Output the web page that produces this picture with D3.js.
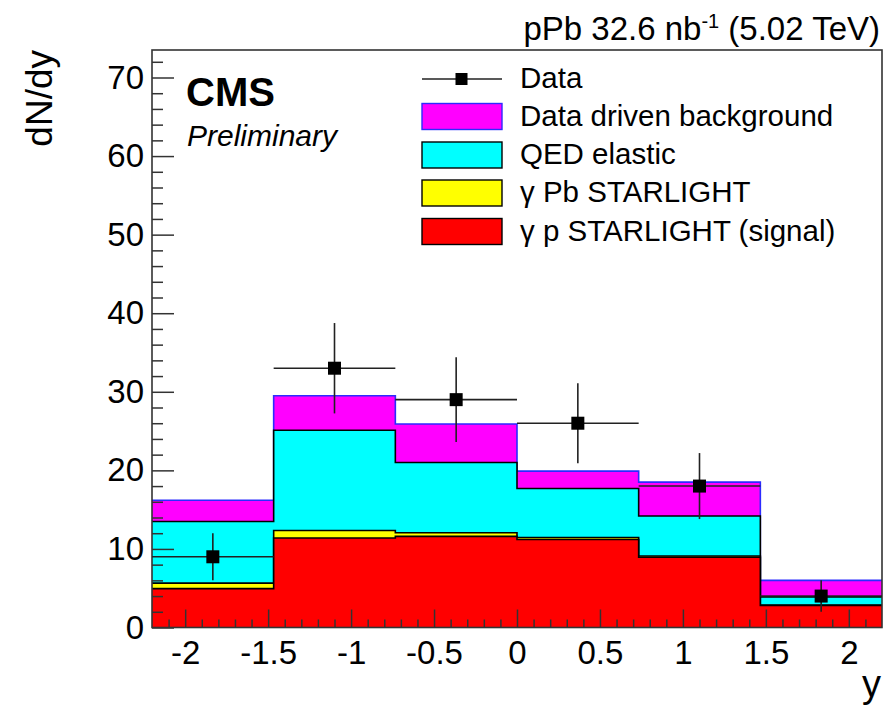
<!DOCTYPE html>
<html>
<head>
<meta charset="utf-8">
<script src="https://cdn.jsdelivr.net/npm/d3@7"></script>
<style>
  html, body { margin: 0; padding: 0; background: #fff; }
  svg { display: block; font-family: "Liberation Sans", Arial, Helvetica, sans-serif; }
</style>
</head>
<body>
<svg id="chart" width="891" height="707"></svg>
<script>
// Rapidity bins (edges) and bin centres
const binEdges = [-2.2, -1.4667, -0.7333, 0, 0.7333, 1.4667, 2.2];
const binCenters = [-1.8333, -1.1, -0.3667, 0.3667, 1.1, 1.8333];

// Stacked components, per bin (bottom to top)
const signalGammaP  = [4.95, 11.4, 11.6, 11.2, 8.95, 2.8];   // γ p STARLIGHT (signal)
const gammaPb       = [0.7, 0.95, 0.45, 0.25, 0.15, 0.05];   // γ Pb STARLIGHT
const qedElastic    = [7.85, 12.75, 8.95, 6.25, 5.1, 1.05];  // QED elastic
const dataDrivenBkg = [2.7, 4.4, 4.9, 2.2, 4.3, 2.1];        // Data driven background

// Measured yields with statistical errors
const dataValues = [9, 33, 29, 26, 18, 4];
const dataErrors = [3.0, 5.75, 5.4, 5.1, 4.2, 2.0];

// Axis ticks and labels
const xTicks = [-2, -1.5, -1, -0.5, 0, 0.5, 1, 1.5, 2];
const xTickLabels = ["-2", "-1.5", "-1", "-0.5", "0", "0.5", "1", "1.5", "2"];
const xMinorTicks = [-2.1, -1.9, -1.8, -1.7, -1.6, -1.4, -1.3, -1.2, -1.1, -0.9, -0.8, -0.7, -0.6,
                     -0.4, -0.3, -0.2, -0.1, 0.1, 0.2, 0.3, 0.4, 0.6, 0.7, 0.8, 0.9,
                     1.1, 1.2, 1.3, 1.4, 1.6, 1.7, 1.8, 1.9, 2.1];
const yTicks = [0, 10, 20, 30, 40, 50, 60, 70];
const yTickLabels = ["0", "10", "20", "30", "40", "50", "60", "70"];
const yMinorTicks = [2, 4, 6, 8, 12, 14, 16, 18, 22, 24, 26, 28, 32, 34, 36, 38,
                     42, 44, 46, 48, 52, 54, 56, 58, 62, 64, 66, 68, 72];

const legendLabels = ["Data", "Data driven background", "QED elastic",
                      "\u03B3 Pb STARLIGHT", "\u03B3 p STARLIGHT (signal)"];

const frame = { left: 152, right: 882, top: 50, bottom: 627.5 };
const svg = d3.select("#chart");
const FONT = '"Liberation Sans", Arial, Helvetica, sans-serif';

const x = d3.scaleLinear().domain([-2.2, 2.2]).range([frame.left, frame.right]);
const y = d3.scaleLinear().domain([0, 73.5]).range([frame.bottom, frame.top]);

// Cumulative stack tops
const layers = [
  { vals: signalGammaP,  fill: "#ff0000", stroke: "#000000" },
  { vals: gammaPb,       fill: "#ffff00", stroke: "#000000" },
  { vals: qedElastic,    fill: "#00ffff", stroke: "#000000" },
  { vals: dataDrivenBkg, fill: "#ff00ff", stroke: "#2b2bff" }
];
let running = binCenters.map(() => 0);
layers.forEach(l => {
  running = running.map((r, i) => r + l.vals[i]);
  l.tops = running.slice();
});

// Step-shaped histogram outline from a set of bin tops
function stepPoints(tops) {
  const pts = [[binEdges[0], 0]];
  tops.forEach((t, i) => {
    pts.push([binEdges[i], t]);
    pts.push([binEdges[i + 1], t]);
  });
  pts.push([binEdges[binEdges.length - 1], 0]);
  return pts;
}
const line = d3.line().x(d => x(d[0])).y(d => y(d[1]));

const plot = svg.append("g");
// Draw from total down to the signal so every layer stays visible
layers.slice().reverse().forEach(l => {
  const pts = stepPoints(l.tops);
  plot.append("path")
    .attr("d", line(pts) + "Z")
    .attr("fill", l.fill)
    .attr("stroke", "none");
  plot.append("path")
    .attr("d", line(pts.slice(1, -1)))
    .attr("fill", "none")
    .attr("stroke", l.stroke)
    .attr("stroke-width", 1.6);
});

// Axes with inward ticks
const axisColor = "#333";
const yAxisMajor = d3.axisLeft(y).tickValues(yTicks)
  .tickFormat((d, i) => yTickLabels[i]).tickSizeInner(-22).tickSizeOuter(0).tickPadding(8);
const yAxisMinor = d3.axisLeft(y).tickValues(yMinorTicks)
  .tickFormat("").tickSizeInner(-11).tickSizeOuter(0);
const xAxisMajor = d3.axisBottom(x).tickValues(xTicks)
  .tickFormat((d, i) => xTickLabels[i]).tickSizeInner(-18).tickSizeOuter(0).tickPadding(13);
const xAxisMinor = d3.axisBottom(x).tickValues(xMinorTicks)
  .tickFormat("").tickSizeInner(-8).tickSizeOuter(0);

function styleAxis(g) {
  g.select(".domain").remove();
  g.selectAll("line").attr("stroke", axisColor).attr("stroke-width", 1.5);
  g.selectAll("text").attr("fill", "#000").style("font-family", FONT).style("font-size", "33px");
}
svg.append("g").attr("transform", `translate(${frame.left},0)`).call(yAxisMajor).call(styleAxis);
svg.append("g").attr("transform", `translate(${frame.left},0)`).call(yAxisMinor).call(styleAxis);
svg.append("g").attr("transform", `translate(0,${frame.bottom})`).call(xAxisMajor).call(styleAxis);
svg.append("g").attr("transform", `translate(0,${frame.bottom})`).call(xAxisMinor).call(styleAxis);

// Frame
svg.append("rect")
  .attr("x", frame.left).attr("y", frame.top)
  .attr("width", frame.right - frame.left).attr("height", frame.bottom - frame.top)
  .attr("fill", "none").attr("stroke", axisColor).attr("stroke-width", 1.6);

// Data points with error bars
const dataG = svg.append("g");
dataValues.forEach((v, i) => {
  const e = dataErrors[i];
  dataG.append("line")
    .attr("x1", x(binEdges[i])).attr("x2", x(binEdges[i + 1]))
    .attr("y1", y(v)).attr("y2", y(v))
    .attr("stroke", "#222").attr("stroke-width", 1.6);
  dataG.append("line")
    .attr("x1", x(binCenters[i])).attr("x2", x(binCenters[i]))
    .attr("y1", y(v + e)).attr("y2", y(v - e))
    .attr("stroke", "#222").attr("stroke-width", 1.6);
  dataG.append("rect")
    .attr("x", x(binCenters[i]) - 6.5).attr("y", y(v) - 6.5)
    .attr("width", 13).attr("height", 13)
    .attr("fill", "#000");
});

// Axis titles
svg.append("text")
  .attr("transform", "translate(52,50) rotate(-90)")
  .attr("text-anchor", "end")
  .style("font-family", FONT).style("font-size", "37px")
  .text("dN/dy");
svg.append("text")
  .attr("x", 881).attr("y", 697)
  .attr("text-anchor", "end")
  .style("font-family", FONT).style("font-size", "38px")
  .text("y");

// Luminosity / energy title
const title = svg.append("text")
  .attr("x", 880).attr("y", 40)
  .attr("text-anchor", "end")
  .style("font-family", FONT).style("font-size", "33px");
title.append("tspan").text("pPb 32.6 nb");
title.append("tspan").attr("dy", -12).style("font-size", "20px").text("-1");
title.append("tspan").attr("dy", 12).text(" (5.02 TeV)");

// CMS label
svg.append("text")
  .attr("x", 186).attr("y", 106)
  .style("font-family", FONT).style("font-size", "40px").style("font-weight", "bold")
  .text("CMS");
svg.append("text")
  .attr("x", 187).attr("y", 146)
  .style("font-family", FONT).style("font-size", "30px").style("font-style", "italic")
  .text("Preliminary");

// Legend
const legendRows = [79, 116.5, 155, 193, 231.5];
const legendFills = [null, "#ff00ff", "#00ffff", "#ffff00", "#ff0000"];
const legendStrokes = [null, "#2b2bff", "#000", "#000", "#000"];
const leg = svg.append("g");
legendLabels.forEach((lab, i) => {
  const cy = legendRows[i];
  if (i === 0) {
    leg.append("line").attr("x1", 422).attr("x2", 502).attr("y1", cy).attr("y2", cy)
      .attr("stroke", "#222").attr("stroke-width", 1.6);
    leg.append("rect").attr("x", 455.5).attr("y", cy - 6).attr("width", 12).attr("height", 12)
      .attr("fill", "#000");
  } else {
    leg.append("rect").attr("x", 422).attr("y", cy - 13).attr("width", 80).attr("height", 26)
      .attr("fill", legendFills[i]).attr("stroke", legendStrokes[i]).attr("stroke-width", 1.4);
  }
  leg.append("text")
    .attr("x", 520).attr("y", cy + 9)
    .style("font-family", FONT).style("font-size", "29.5px")
    .text(lab);
});
</script>
</body>
</html>
